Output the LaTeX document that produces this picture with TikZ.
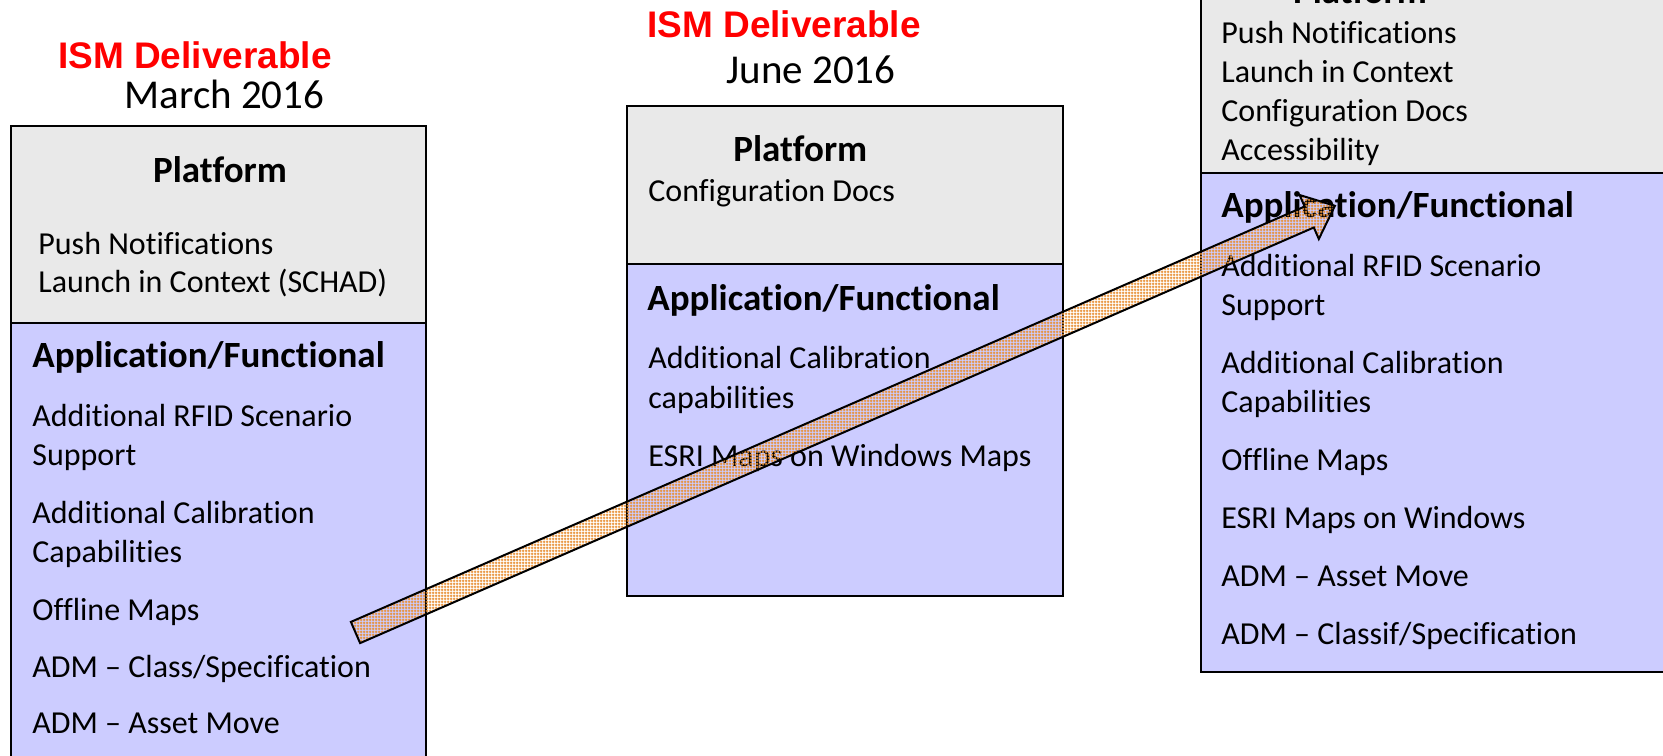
\documentclass[tikz,border=0pt]{standalone}
\usepackage{fontspec}
\setmainfont{Carlito}[Ligatures={TeX,NoCommon}]
\newfontfamily\arialfont{Liberation Sans}
\usepackage{tikz}
\usetikzlibrary{positioning}
\usetikzlibrary{patterns.meta}
\definecolor{ismred}{RGB}{255,0,0}
\definecolor{platgray}{RGB}{233,233,233}
\definecolor{applav}{RGB}{204,204,255}
\definecolor{arrorange}{RGB}{232,145,55}
\tikzdeclarepattern{name=finegrid,type=uncolored,
  bounding box={(0,0) and (1.5pt,1.5pt)},tile size={(1.5pt,1.5pt)},
  code={\draw[line width=0.8pt] (0,0.75pt)--(1.5pt,0.75pt) (0.75pt,0)--(0.75pt,1.5pt);}}

\begin{document}
\begin{tikzpicture}[x=0.5pt,y=-0.5pt,
  platbox/.style={draw=black,line width=1pt,fill=platgray},
  appbox/.style={draw=black,line width=1pt,fill=applav},
  item/.style={anchor=base west,inner sep=0pt,font=\fontsize{16}{19}\selectfont},
  head/.style={anchor=base west,inner sep=0pt,font=\bfseries\fontsize{18.5}{22}\selectfont},
  ism/.style={anchor=base,inner sep=0pt,text=ismred,font=\arialfont\bfseries\fontsize{18.5}{22}\selectfont},
  when/.style={anchor=base,inner sep=0pt,font=\fontsize{20.5}{24}\selectfont}]
 \useasboundingbox (0,0) rectangle (1663,755);
 \clip (0,0) rectangle (1663,755);
 \fill[white](0,0) rectangle (1663,755);
 % boxes
 \draw[platbox](10.7,126) rectangle (426,323);
 \draw[appbox](10.7,323) rectangle (426,790);
 \draw[platbox](627,106) rectangle (1063,264);
 \draw[appbox](627,264) rectangle (1063,596);
 \draw[platbox](1201,-30) rectangle (1700,173);
 \draw[appbox](1201,173) rectangle (1700,672);
 % March 2016
 \node[ism] (ismmar) at (195,68) {ISM Deliverable};
 \node[when] (datemar) at (224.5,108) {March 2016};
 \node[head,anchor=base] (lplat) at (220,182) {Platform};
 \node[item] (lpush) at (38,254) {Push Notifications};
 \node[item] (llaunch) at (38,292) {Launch in Context (SCHAD)};
 \node[head] (lapp) at (32,367) {Application/Functional};
 \node[item] (lrfid) at (32,426) {Additional RFID Scenario};
 \node[item] (lsupp) at (32,465) {Support};
 \node[item] (lcalib) at (32,523) {Additional Calibration};
 \node[item] (lcapab) at (32,562) {Capabilities};
 \node[item] (loffl) at (32,620) {Offline Maps};
 \node[item] (lclass) at (32,677) {ADM -- Class/Specification};
 \node[item] (lmove) at (32,733) {ADM -- Asset Move};
 % June 2016
 \node[ism] (ismjun) at (784,37) {ISM Deliverable};
 \node[when] (datejun) at (811,83) {June 2016};
 \node[head] (mplat) at (733,161) {Platform};
 \node[item] (mconf) at (648,201) {Configuration Docs};
 \node[head] (mapp) at (647,310) {Application/Functional};
 \node[item] (mcalib) at (648,368) {Additional Calibration};
 \node[item] (mcapab) at (648,408) {capabilities};
 \node[item] (mesri) at (648,466) {ESRI Maps on Windows Maps};
 % later release
 \node[head,anchor=base] (rplat) at (1360,3.5) {Platform};
 \node[item] (rpush) at (1221,43.5) {Push Notifications};
 \node[item] (rlaunch) at (1221,82.5) {Launch in Context};
 \node[item] (rconf) at (1221,121) {Configuration Docs};
 \node[item] (raccess) at (1221,160) {Accessibility};
 \node[head] (rapp) at (1221,217) {Application/Functional};
 \node[item] (rrfid) at (1221,276) {Additional RFID Scenario};
 \node[item] (rsupp) at (1221,315) {Support};
 \node[item] (rcalib) at (1221,373) {Additional Calibration};
 \node[item] (rcapab) at (1221,412) {Capabilities};
 \node[item] (roffl) at (1221,470) {Offline Maps};
 \node[item] (resri) at (1221,528) {ESRI Maps on Windows};
 \node[item] (rmove) at (1221,586) {ADM -- Asset Move};
 \node[item] (rclass) at (1221,644) {ADM -- Classif/Specification};
 % arrow
 \draw[line width=1pt,pattern={finegrid},pattern color=arrorange,line join=miter]
   (350.9,621.9)--(1304.6,206.5)--(1299.6,195.0)--(1334.9,205.8)
   --(1318.8,239.0)--(1313.8,227.5)--(360.1,643.1)--cycle;
\end{tikzpicture}
\end{document}
